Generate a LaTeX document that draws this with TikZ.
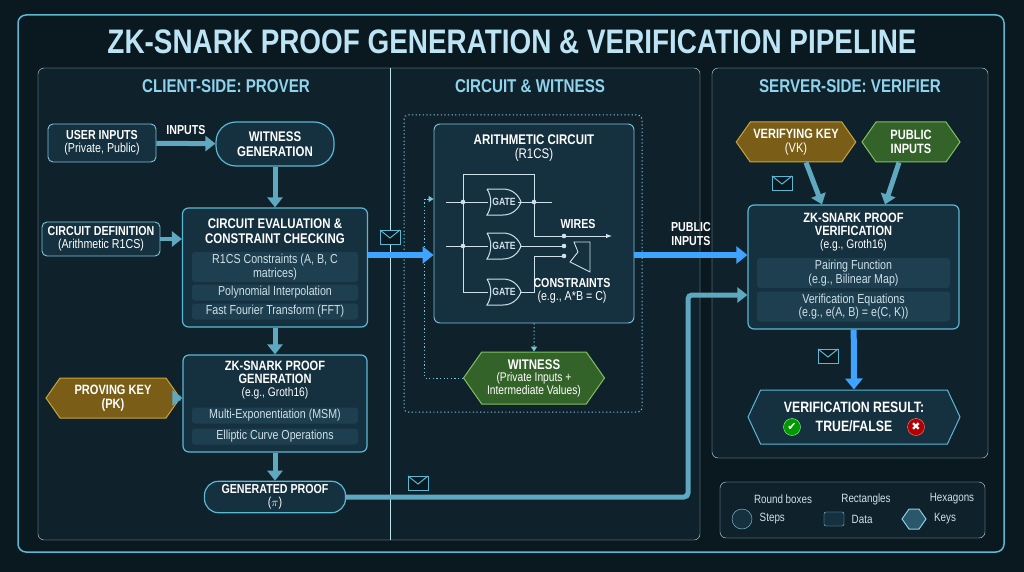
\documentclass[tikz,border=0pt]{standalone}
\usepackage{fontspec}
\setmainfont{Liberation Sans}[FakeStretch=0.82]
\newfontfamily\symfont{DejaVu Sans}
\usetikzlibrary{arrows.meta,shapes.symbols,positioning}

\definecolor{bgdark}{HTML}{0A1820}
\definecolor{panel}{HTML}{0F222C}
\definecolor{edge}{HTML}{5BB8D4}
\definecolor{boxfill}{HTML}{15313F}
\definecolor{rowfill}{HTML}{1E3F4F}
\definecolor{headtxt}{HTML}{8FD3EC}
\definecolor{subtxt}{HTML}{CFE1EA}
\definecolor{goldfill}{HTML}{7A5E18}
\definecolor{goldedge}{HTML}{C9A43A}
\definecolor{greenfill}{HTML}{34632A}
\definecolor{greenedge}{HTML}{7FC060}
\definecolor{flow}{HTML}{5FA9C0}
\definecolor{glow}{HTML}{3FA4FF}

\tikzset{
  stepbox/.style={draw=edge, line width=1.2pt, fill=boxfill, rounded corners=14pt, text=white, font=\bfseries\fontsize{14}{14.5}\selectfont, align=center},
  databox/.style={draw=edge!80, line width=0.9pt, fill=boxfill, rounded corners=5pt, text=white, font=\bfseries\fontsize{13}{13.5}\selectfont, align=center},
  rowbox/.style={fill=rowfill, rounded corners=3pt, text=subtxt, font=\fontsize{13}{13.5}\selectfont, align=center, minimum width=166pt, inner ysep=1pt},
  keybox/.style={signal, signal to=east and west, signal pointer angle=110, line width=1pt, text=white, font=\bfseries\fontsize{13.5}{14}\selectfont, align=center, inner sep=3pt},
  gold/.style={keybox, draw=goldedge, fill=goldfill},
  leaf/.style={keybox, draw=greenedge, fill=greenfill},
  fat/.style={draw=flow, line width=5pt, -{Triangle[length=10pt,width=15pt]}},
  bright/.style={draw=glow, line width=6pt, -{Triangle[length=11pt,width=17pt]}},
  dotted line/.style={draw=edge!80, line width=1pt, dash pattern=on 1.2pt off 2.4pt},
  sechead/.style={text=headtxt, font=\bfseries\fontsize{18.5}{19}\selectfont},
  legendtxt/.style={text=subtxt, font=\fontsize{12}{13}\selectfont},
  envelope/.pic={
    \draw[edge, line width=1pt, fill=bgdark] (-10,-7) rectangle (10,7);
    \draw[edge, line width=1pt] (-10,-7) -- (0,1) -- (10,-7);
  },
  gate/.pic={
    \draw[subtxt, line width=1pt] (-16,-13) -- (0,-13) .. controls (10,-13) and (16,-6) .. (18,0)
      .. controls (16,6) and (10,13) .. (0,13) -- (-16,13) .. controls (-11,5) and (-11,-5) .. (-16,-13);
    \node[text=subtxt, font=\bfseries\fontsize{10.5}{11}\selectfont] at (1,0) {GATE};
  },
}

\begin{document}
\begin{tikzpicture}[x=1pt, y=-1pt]
  \fill[bgdark] (0,0) rectangle (1024,572);
  \useasboundingbox (0,0) rectangle (1024,572);
  \draw[edge, line width=1.5pt, rounded corners=8pt] (18,15) rectangle (1004,552);

  \node[text=headtxt!60!white, font=\bfseries\fontsize{34}{36}\selectfont] (title) at (512,42) {ZK-SNARK PROOF GENERATION \& VERIFICATION PIPELINE};

  % panels
  \draw[edge!40, fill=panel, rounded corners=6pt] (38,68) rectangle (700,540);
  \draw[edge!40] (390,68) -- (390,540);
  \draw[edge!40, fill=panel, rounded corners=6pt] (712,68) rectangle (988,458);
  \node[sechead] (client) at (226,86) {CLIENT-SIDE: PROVER};
  \node[sechead] (circ) at (530,86) {CIRCUIT \& WITNESS};
  \node[sechead] (server) at (850,86) {SERVER-SIDE: VERIFIER};

  % prover side
  \node[databox, minimum width=108pt, minimum height=38pt] (user) at (102,143) {USER INPUTS\\{\mdseries (Private, Public)}};
  \node[stepbox, minimum width=118pt, minimum height=44pt, rounded corners=20pt] (wit) at (275,144) {WITNESS\\GENERATION};
  \node[databox, minimum width=118pt, minimum height=34pt] (def) at (101,239) {CIRCUIT DEFINITION\\{\mdseries (Arithmetic R1CS)}};
  \node[stepbox, rounded corners=6pt, minimum width=185pt, minimum height=119pt] (eval) at (275,267.5) {};
  \node[text=white, font=\bfseries\fontsize{14}{14.5}\selectfont, align=center] (evalt) at (275,231) {CIRCUIT EVALUATION \&\\CONSTRAINT CHECKING};
  \node[rowbox, minimum height=30pt] (r1cs) at (275,267) {R1CS Constraints (A, B, C\\matrices)};
  \node[rowbox, minimum height=16pt] (poly) at (275,292.5) {Polynomial Interpolation};
  \node[rowbox, minimum height=16pt] (fft) at (275,311.5) {Fast Fourier Transform (FFT)};

  \node[gold, minimum width=134pt, minimum height=40pt] (pk) at (113,398) {PROVING KEY\\(PK)};
  \node[stepbox, rounded corners=6pt, minimum width=184pt, minimum height=97pt] (gen) at (275,403.5) {};
  \node[text=white, font=\bfseries\fontsize{13.5}{13}\selectfont, align=center] (gent) at (275,380) {ZK-SNARK PROOF\\GENERATION\\{\mdseries\fontsize{12.5}{13}\selectfont (e.g., Groth16)}};
  \node[rowbox, minimum height=16pt] (msm) at (275,415.5) {Multi-Exponentiation (MSM)};
  \node[rowbox, minimum height=16pt] (ecc) at (275,436.5) {Elliptic Curve Operations};
  \node[stepbox, minimum width=141pt, minimum height=30pt, font=\bfseries\fontsize{13}{13}\selectfont] (proof) at (275,497) {GENERATED PROOF\\{\mdseries ($\pi$)}};

  \draw[fat] (user) -- node[above=3pt, text=white, font=\bfseries\fontsize{13}{14}\selectfont] {INPUTS} (wit);
  \draw[fat] (wit) -- (eval);
  \draw[fat, line width=3.5pt] (def) -- (eval.west |- def);
  \draw[fat] (pk) -- (gen.west |- pk);
  \draw[fat] (eval) -- (gen);
  \draw[fat] (gen) -- (proof);

  % circuit & witness
  \draw[dotted line, rounded corners=4pt] (404,115) rectangle (642,412);
  \node[databox, rounded corners=6pt, minimum width=200pt, minimum height=199pt] (arith) at (534,223.5) {};
  \node[text=white, font=\bfseries\fontsize{14}{14.5}\selectfont, align=center] (aritht) at (534,148) {ARITHMETIC CIRCUIT\\{\mdseries (R1CS)}};
  \pic at (503,202) {gate};
  \pic at (503,246) {gate};
  \pic at (503,292) {gate};
  \draw[subtxt, line width=0.9pt] (446,202) -- (488,202) (518,202) -- (552,202)
    (463,174) -- (463,292) -- (488,292) (463,174) -- (534,174) -- (534,202)
    (446,246) -- (488,246) (520,246) -- (566,246)
    (534,202) -- (534,236) (520,292) -- (534,292) -- (534,256) -- (566,256);
  \draw[subtxt, line width=0.9pt, -{Latex[length=6pt]}] (534,236) -- (612,236);
  \foreach \p in {(463,202),(463,246),(534,202),(564,236),(564,246),(564,256)}
    \fill[subtxt] \p circle (2.3pt);
  \draw[subtxt, line width=0.9pt] (574,242) -- (590,242) -- (590,272) -- (570,262) -- (578,252) -- cycle;
  \node[text=white, font=\bfseries\fontsize{13}{14}\selectfont] (wires) at (578,224) {WIRES};
  \node[text=white, font=\bfseries\fontsize{13}{13.5}\selectfont, align=center] (cons) at (572,291) {CONSTRAINTS\\{\mdseries (e.g., A*B = C)}};
  \node[leaf, minimum width=141pt, minimum height=52pt, font=\fontsize{12.5}{12.5}\selectfont] (witness) at (534,378) {{\bfseries\fontsize{14}{14}\selectfont WITNESS}\\(Private Inputs +\\Intermediate Values)};
  \draw[dotted line, -{Triangle[length=5pt,width=6pt]}] (arith) -- (witness);
  \draw[dotted line, -{Triangle[length=5pt,width=6pt]}] (witness.west) -- ++(-38,0) |- (arith.west |- 0,199);

  \draw[bright] (eval.east |- 0,255) -- (arith.west |- 0,255);
  \pic at (390,237) {envelope};

  % verifier side
  \node[gold, minimum width=108pt, minimum height=40pt] (vk) at (796,142) {VERIFYING KEY\\{\mdseries (VK)}};
  \node[leaf, minimum width=98pt, minimum height=40pt] (pub) at (911,142) {PUBLIC\\INPUTS};
  \node[stepbox, rounded corners=6pt, minimum width=211pt, minimum height=124pt] (verify) at (853.5,267) {};
  \node[text=white, font=\bfseries\fontsize{13.5}{13}\selectfont, align=center] (verifyt) at (853.5,232) {ZK-SNARK PROOF\\VERIFICATION\\{\mdseries\fontsize{12.5}{13}\selectfont (e.g., Groth16)}};
  \node[rowbox, minimum width=193pt, minimum height=30pt] (pair) at (853.5,273) {Pairing Function\\(e.g., Bilinear Map)};
  \node[rowbox, minimum width=193pt, minimum height=30pt] (eqs) at (853.5,306.5) {Verification Equations\\(e.g., e(A, B) = e(C, K))};
  \node[keybox, draw=edge, fill=boxfill, minimum width=212pt, minimum height=54pt, signal pointer angle=130, font=\bfseries\fontsize{15}{17}\selectfont] (result) at (854,417) {VERIFICATION RESULT:\\[2pt]TRUE/FALSE};
  \node[circle, fill=green!60!black, draw=green!40, text=white, inner sep=1pt, minimum size=17pt, font=\symfont\fontsize{11}{11}\selectfont] (ok) at (792,427) {\char"2714};
  \node[circle, fill=red!70!black, draw=red!50, text=white, inner sep=1pt, minimum size=17pt, font=\symfont\fontsize{11}{11}\selectfont] (bad) at (916,427) {\char"2716};

  \draw[fat] (vk.south) ++(10,0) coordinate (vkout) (vkout) -- (verify.north -| 822,0);
  \draw[fat] (pub.south) ++(-12,0) coordinate (pubout) (pubout) -- (verify.north -| 885,0);
  \draw[bright] (verify) -- (result);
  \draw[bright] (arith.east |- 0,255) -- node[above=3pt, text=white, font=\bfseries\fontsize{13}{14}\selectfont, align=center] {PUBLIC\\INPUTS} (verify.west |- 0,255);
  \draw[flow, line width=5pt, rounded corners=4pt, -{Triangle[length=10pt,width=15pt]}] (proof.east) -- (688,497) |- (verify.west |- 0,295);
  \pic at (782,183) {envelope};
  \pic at (828,356) {envelope};
  \pic at (418,483) {envelope};

  % legend
  \draw[edge!40, fill=panel, rounded corners=6pt] (720,482) rectangle (985,538);
  \node[legendtxt] (lround) at (783,499) {Round boxes};
  \node[legendtxt] (lrect) at (866,499) {Rectangles};
  \node[legendtxt] (lhex) at (952,499) {Hexagons};
  \node[draw=edge!70, fill=boxfill, circle, minimum size=20pt] (lc) at (742,519) {};
  \node[legendtxt, right=4pt of lc] {Steps};
  \node[draw=edge!70, fill=boxfill, rounded corners=2pt, minimum width=20pt, minimum height=14pt] (ls) at (834,519) {};
  \node[legendtxt, right=4pt of ls] {Data};
  \node[keybox, draw=edge!70, fill=rowfill!80!edge, minimum width=24pt, minimum height=20pt, inner sep=0pt] (lh) at (914,519) {};
  \node[legendtxt, right=4pt of lh] {Keys};
\end{tikzpicture}
\end{document}
